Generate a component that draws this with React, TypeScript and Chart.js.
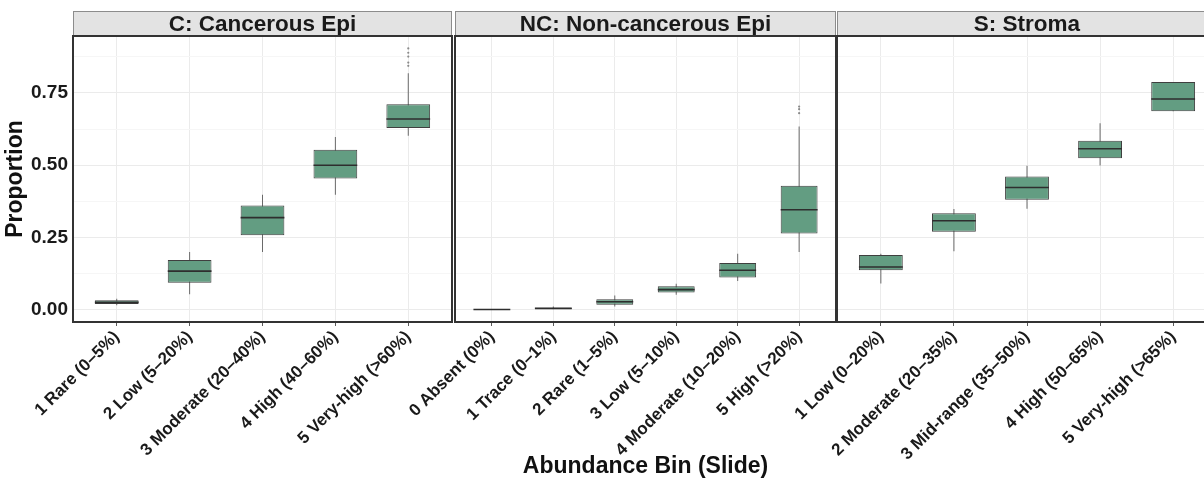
import React, { useEffect, useRef } from 'react';
import { Chart, registerables } from 'chart.js';

Chart.register(...registerables);

// ---------------- DATA ----------------
const C_TITLE = 'C: Cancerous Epi';
const C_LABELS = ['1 Rare (0–5%)', '2 Low (5–20%)', '3 Moderate (20–40%)', '4 High (40–60%)', '5 Very-high (>60%)'];
const C_LO = [0.016, 0.054, 0.200, 0.398, 0.602];
const C_Q1 = [0.020, 0.094, 0.258, 0.454, 0.629];
const C_MED = [0.026, 0.134, 0.319, 0.500, 0.660];
const C_Q3 = [0.033, 0.172, 0.361, 0.554, 0.711];
const C_HI = [0.038, 0.200, 0.398, 0.598, 0.818];
const C_OUT = [[], [], [], [], [0.844, 0.855, 0.876, 0.889, 0.904]];

const NC_TITLE = 'NC: Non-cancerous Epi';
const NC_LABELS = ['0 Absent (0%)', '1 Trace (0–1%)', '2 Rare (1–5%)', '3 Low (5–10%)', '4 Moderate (10–20%)', '5 High (>20%)'];
const NC_LO = [0.000, 0.000, 0.012, 0.052, 0.100, 0.200];
const NC_Q1 = [0.000, 0.003, 0.018, 0.060, 0.112, 0.264];
const NC_MED = [0.001, 0.005, 0.028, 0.070, 0.137, 0.346];
const NC_Q3 = [0.002, 0.007, 0.037, 0.082, 0.162, 0.429];
const NC_HI = [0.003, 0.012, 0.050, 0.090, 0.194, 0.634];
const NC_OUT = [[], [], [], [], [], [0.680, 0.694, 0.703]];

const S_TITLE = 'S: Stroma';
const S_LABELS = ['1 Low (0–20%)', '2 Moderate (20–35%)', '3 Mid-range (35–50%)', '4 High (50–65%)', '5 Very-high (>65%)'];
const S_LO = [0.091, 0.203, 0.350, 0.499, 0.687];
const S_Q1 = [0.137, 0.270, 0.381, 0.524, 0.687];
const S_MED = [0.148, 0.308, 0.423, 0.557, 0.729];
const S_Q3 = [0.190, 0.334, 0.461, 0.585, 0.788];
const S_HI = [0.194, 0.349, 0.498, 0.645, 0.788];
const S_OUT = [[], [], [], [], []];

const Y_TICKS = [0, 0.125, 0.25, 0.375, 0.5, 0.625, 0.75, 0.875];
const Y_MIN = -0.042;
const Y_MAX = 0.947;
const X_TITLE = 'Abundance Bin (Slide)';
const Y_TITLE = 'Proportion';

// ---------------- STYLE / LAYOUT ----------------
const FONT = "'Liberation Sans', Arial, Helvetica, sans-serif";
const CANVAS_W = 1230;
const CANVAS_H = 481;
const PANEL_TOP = 36;
const PANEL_BOTTOM = 322;
const STRIP_TOP = 11;
const BOX_FILL = 'rgb(99,157,130)';
const BOX_LINE = '#3f3f3f';
const WHISKER = '#6a6a6a';

type Panel = {
  title: string; labels: string[]; lo: number[]; q1: number[]; med: number[]; q3: number[]; hi: number[]; out: number[][];
  left: number; right: number; showY: boolean; showXTitle: boolean;
};

const PANELS: Panel[] = [
  { title: C_TITLE, labels: C_LABELS, lo: C_LO, q1: C_Q1, med: C_MED, q3: C_Q3, hi: C_HI, out: C_OUT, left: 73, right: 452, showY: true, showXTitle: false },
  { title: NC_TITLE, labels: NC_LABELS, lo: NC_LO, q1: NC_Q1, med: NC_MED, q3: NC_Q3, hi: NC_HI, out: NC_OUT, left: 455, right: 836, showY: false, showXTitle: true },
  { title: S_TITLE, labels: S_LABELS, lo: S_LO, q1: S_Q1, med: S_MED, q3: S_Q3, hi: S_HI, out: S_OUT, left: 837, right: 1217, showY: false, showXTitle: false },
];

const stripPlugin = {
  id: 'strip',
  afterDraw(chart: any, _args: any, opts: any) {
    const { ctx, chartArea } = chart;
    const { left, right, top, bottom } = chartArea;
    ctx.save();
    // strip
    ctx.fillStyle = '#e3e3e3';
    ctx.fillRect(left, STRIP_TOP, right - left, top - STRIP_TOP);
    ctx.strokeStyle = '#8c8c8c';
    ctx.lineWidth = 1;
    ctx.strokeRect(left + 0.5, STRIP_TOP + 0.5, right - left - 1, top - STRIP_TOP);
    ctx.fillStyle = '#1a1a1a';
    ctx.font = `bold 22.5px ${FONT}`;
    ctx.textAlign = 'center';
    ctx.textBaseline = 'middle';
    ctx.fillText(opts.text, (left + right) / 2, (STRIP_TOP + top) / 2 + 1.5);
    // panel border
    ctx.strokeStyle = '#333333';
    ctx.lineWidth = 2;
    ctx.strokeRect(left, top, right - left, bottom - top);
    ctx.restore();
  },
};

function buildConfig(p: Panel): any {
  const n = p.labels.length;
  const whiskers = p.labels.map((_, i) => ({ x: i + 1, y: [p.lo[i], p.hi[i]] }));
  const boxes = p.labels.map((_, i) => ({ x: i + 1, y: [p.q1[i], p.q3[i]] }));
  const medians = p.labels.map((_, i) => ({ x: i + 1, y: p.med[i] }));
  const outliers: { x: number; y: number }[] = [];
  p.out.forEach((arr, i) => arr.forEach((v) => outliers.push({ x: i + 1, y: v })));
  const halfBox = (c: any) => {
    const s = c.chart.scales?.x;
    if (!s) return 10;
    return s.getPixelForValue(1.3) - s.getPixelForValue(1);
  };
  return {
    type: 'bar',
    data: {
      datasets: [
        { type: 'bar', data: whiskers, grouped: false, order: 3, backgroundColor: WHISKER, borderWidth: 0, maxBarThickness: 1, barPercentage: 0.6, categoryPercentage: 1 },
        { type: 'bar', data: boxes, grouped: false, order: 2, backgroundColor: BOX_FILL, borderColor: BOX_LINE, borderWidth: 1, borderSkipped: false, barPercentage: 0.6, categoryPercentage: 1 },
        { type: 'scatter', data: medians, order: 1, pointStyle: 'line', pointRadius: halfBox, pointHoverRadius: halfBox, borderColor: '#2e2e2e', pointBorderWidth: 1.6, borderWidth: 1.6, backgroundColor: '#2e2e2e' },
        { type: 'scatter', data: outliers, order: 0, pointStyle: 'circle', pointRadius: 1.1, backgroundColor: '#8a8a8a', borderColor: '#8a8a8a', borderWidth: 0 },
      ],
    },
    options: {
      animation: false,
      responsive: false,
      devicePixelRatio: 1,
      events: [],
      layout: { padding: { left: p.showY ? 0 : p.left, right: CANVAS_W - p.right, top: PANEL_TOP, bottom: 0 } },
      plugins: { legend: { display: false }, tooltip: { enabled: false }, strip: { text: p.title } },
      scales: {
        x: {
          type: 'linear',
          min: 0.4,
          max: n + 0.6,
          offset: false,
          afterBuildTicks: (s: any) => { s.ticks = p.labels.map((_, i) => ({ value: i + 1 })); },
          afterFit: (s: any) => { s.height = CANVAS_H - PANEL_BOTTOM; },
          ticks: {
            autoSkip: false,
            minRotation: 45,
            maxRotation: 45,
            padding: 1,
            color: '#1a1a1a',
            font: { family: FONT, size: 17, weight: 'bold' },
            callback: (v: number) => p.labels[Math.round(v) - 1] ?? '',
          },
          grid: { offset: false, color: '#ebebeb', lineWidth: 1, drawTicks: true, tickLength: 4, tickColor: '#5a5a5a' },
          border: { display: false },
          title: { display: p.showXTitle, text: X_TITLE, color: '#111', font: { family: FONT, size: 23, weight: 'bold' }, padding: { top: 0, bottom: 1 } },
        },
        y: {
          type: 'linear',
          min: Y_MIN,
          max: Y_MAX,
          afterBuildTicks: (s: any) => { s.ticks = Y_TICKS.map((v) => ({ value: v })); },
          afterFit: (s: any) => { s.width = p.showY ? p.left : 0; },
          ticks: {
            display: p.showY,
            padding: 5,
            color: '#1a1a1a',
            font: { family: FONT, size: 19, weight: 'bold' },
            callback: (v: number) => (Math.abs(v * 4 - Math.round(v * 4)) < 1e-6 ? v.toFixed(2) : ''),
          },
          grid: {
            drawTicks: false,
            lineWidth: 1,
            color: (c: any) => {
              const v = c.tick?.value ?? 0;
              return Math.abs(v * 4 - Math.round(v * 4)) < 1e-6 ? '#ebebeb' : '#f6f6f6';
            },
          },
          border: { display: false },
          title: { display: p.showY, text: Y_TITLE, color: '#111', font: { family: FONT, size: 23, weight: 'bold' }, padding: { top: 2, bottom: 0 } },
        },
      },
    },
    plugins: [stripPlugin],
  };
}

function PanelChart({ panel }: { panel: Panel }) {
  const ref = useRef<HTMLCanvasElement | null>(null);
  useEffect(() => {
    if (!ref.current) return;
    const chart = new Chart(ref.current, buildConfig(panel));
    return () => chart.destroy();
  }, [panel]);
  return (
    <canvas
      ref={ref}
      width={CANVAS_W}
      height={CANVAS_H}
      style={{ position: 'absolute', left: 0, top: 0, width: CANVAS_W, height: CANVAS_H }}
    />
  );
}

export default function App() {
  useEffect(() => {
    document.body.style.margin = '0';
    document.body.style.background = '#ffffff';
  }, []);
  return (
    <div style={{ position: 'relative', width: 1204, height: 481, overflow: 'hidden', background: '#fff' }}>
      {PANELS.map((p) => (
        <PanelChart key={p.title} panel={p} />
      ))}
    </div>
  );
}
